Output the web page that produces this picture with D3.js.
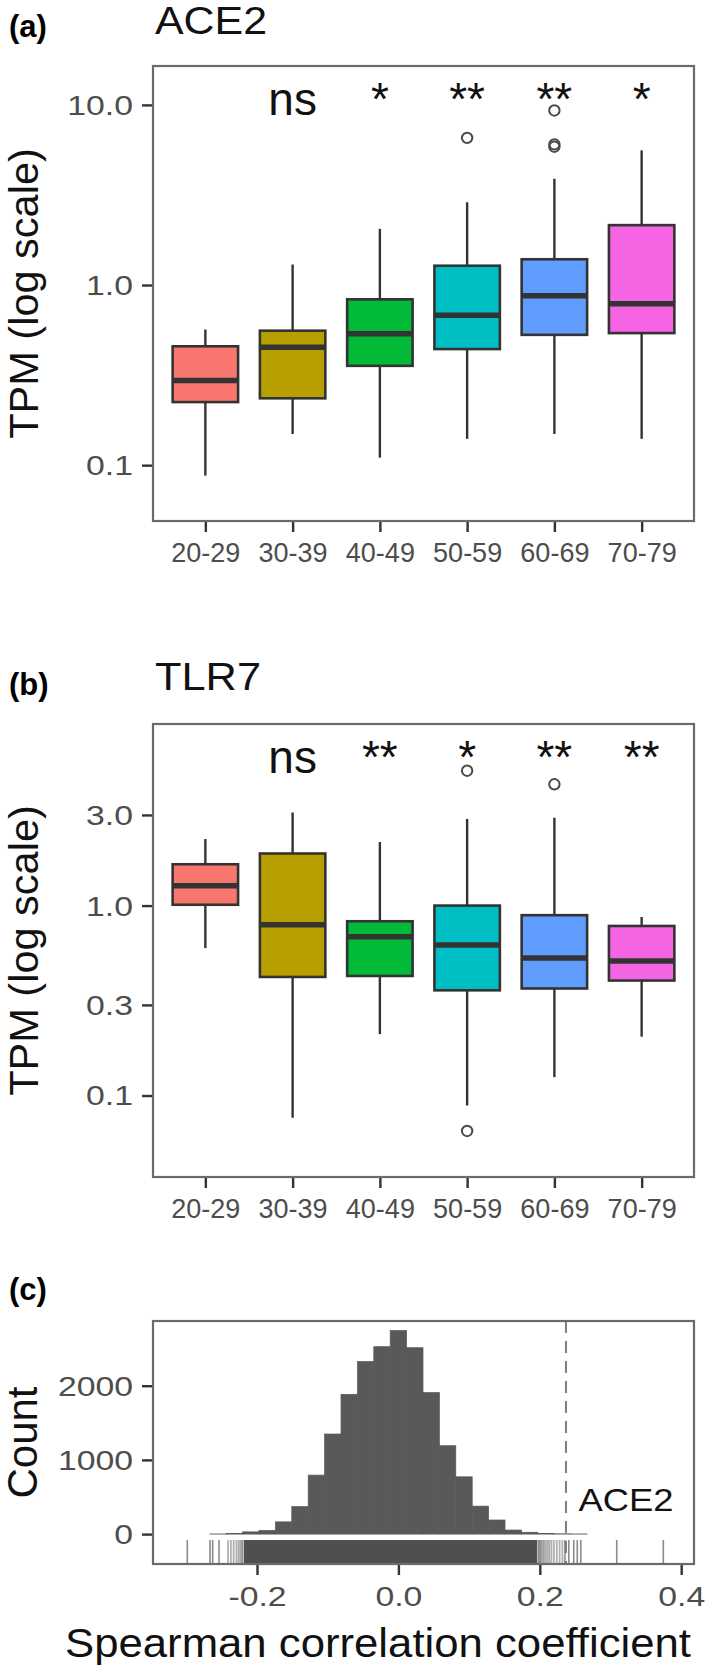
<!DOCTYPE html>
<html>
<head>
<meta charset="utf-8">
<script src="https://cdn.jsdelivr.net/npm/d3@7"></script>
<style>
  html, body { margin: 0; padding: 0; background: #fff; }
  svg { display: block; }
  text { font-family: "Liberation Sans", Arial, sans-serif; }
</style>
</head>
<body>
<svg id="chart" width="709" height="1669"></svg>
<script>
// ---------------- DATA ----------------
const ageGroups = ["20-29", "30-39", "40-49", "50-59", "60-69", "70-79"];
const groupColors = ["#F8766D", "#B79F00", "#00BA38", "#00BFC4", "#619CFF", "#F564E3"];

// ACE2 (TPM) box statistics
const ace2Low     = [0.0875, 0.149, 0.110, 0.140, 0.149, 0.140];
const ace2Q1      = [0.224, 0.235, 0.356, 0.441, 0.529, 0.541];
const ace2Median  = [0.295, 0.451, 0.536, 0.679, 0.872, 0.786];
const ace2Q3      = [0.457, 0.558, 0.833, 1.28, 1.39, 2.15];
const ace2High    = [0.566, 1.30, 2.05, 2.88, 3.89, 5.59];
const ace2Outliers = [[], [], [], [6.56], [9.31, 6.04, 5.86], []];
const ace2Signif  = ["", "ns", "*", "**", "**", "*"];
const ace2SignifY = 8.79;
const ace2Ticks   = [0.1, 1, 10];
const ace2TickLabels = ["0.1", "1.0", "10.0"];
const ace2Domain  = [0.04898, 16.44];

// TLR7 (TPM) box statistics
const tlr7Low     = [0.597, 0.0764, 0.2105, 0.0886, 0.125, 0.204];
const tlr7Q1      = [1.01, 0.421, 0.426, 0.358, 0.366, 0.403];
const tlr7Median  = [1.27, 0.792, 0.686, 0.621, 0.529, 0.511];
const tlr7Q3      = [1.65, 1.88, 0.827, 1.00, 0.89, 0.781];
const tlr7High    = [2.24, 3.09, 2.16, 2.86, 2.90, 0.871];
const tlr7Outliers = [[], [], [], [5.13, 0.0651], [4.35], []];
const tlr7Signif  = ["", "ns", "**", "*", "**", "**"];
const tlr7SignifY = 4.96;
const tlr7Ticks   = [0.1, 0.3, 1, 3];
const tlr7TickLabels = ["0.1", "0.3", "1.0", "3.0"];
const tlr7Domain  = [0.03724, 9.036];

// Histogram of Spearman correlation coefficients
const binWidth   = 0.0232;
const binCenters = [-0.2552, -0.232, -0.2088, -0.1856, -0.1624, -0.1392, -0.116, -0.0928, -0.0696, -0.0464, -0.0232,
                    0, 0.0232, 0.0464, 0.0696, 0.0928, 0.116, 0.1392, 0.1624, 0.1856, 0.2088, 0.232, 0.2552];
const binCounts  = [2, 8, 30, 50, 165, 370, 795, 1349, 1884, 2326, 2526,
                    2744, 2512, 1907, 1191, 772, 377, 190, 55, 25, 10, 4, 2];
const rugDenseRange = [-0.2184, 0.196];
const rugFade   = [-0.2200, -0.2215, -0.2235, -0.226, -0.229, -0.233, -0.237, -0.241,
                   0.1975, 0.199, 0.2005, 0.202, 0.204, 0.206, 0.2085, 0.211, 0.2135, 0.2165, 0.22, 0.224, 0.228, 0.232];
const rugSparse = [-0.2986, -0.2665, -0.2627, -0.2537, 0.2356, 0.241, 0.248, 0.253, 0.258, 0.3088, 0.3747];
const ace2Rho   = 0.237;
const corrTicks = [-0.2, 0, 0.2, 0.4];
const corrDomain = [-0.3471, 0.4181];
const countTicks = [0, 1000, 2000];
const countDomain = [-403, 2872];

// ---------------- DRAWING ----------------
const svg = d3.select("#chart");
svg.append("rect").attr("width", 709).attr("height", 1669).attr("fill", "#fff");

const tickColor = "#4D4D4D";
const borderColor = "#6b6b6b";
const lineColor = "#333333";
const tickFont = 27;
const stretch = 1.25;

function styleLeftAxis(g) {
  g.select(".domain").remove();
  g.selectAll(".tick line").attr("stroke", lineColor).attr("stroke-width", 2.4);
  g.selectAll(".tick text")
    .attr("fill", tickColor)
    .attr("font-size", tickFont)
    .attr("x", -20 / stretch)
    .attr("dy", "0.35em")
    .attr("transform", `scale(${stretch},1)`);
}

function drawBoxPanel(cfg) {
  const { L, R, T, B } = cfg;
  const g = svg.append("g");
  const x = d3.scalePoint().domain(ageGroups).range([L, R]).padding(0.6);
  const y = d3.scaleLog().domain(cfg.domain).range([B, T]);
  const unit = x.step();
  const bw = unit * 0.75;

  // panel label & title
  g.append("text").attr("x", 9).attr("y", cfg.labelY).attr("font-size", 31).attr("font-weight", "bold")
    .text(cfg.panelLabel);
  g.append("text").attr("x", 155).attr("y", cfg.titleY).attr("font-size", 39).attr("fill", "#111")
    .attr("textLength", cfg.titleLen).attr("lengthAdjust", "spacingAndGlyphs")
    .text(cfg.title);

  // y axis
  const ya = g.append("g").attr("transform", `translate(${L},0)`)
    .call(d3.axisLeft(y).tickValues(cfg.ticks).tickFormat((d, i) => cfg.tickLabels[i]).tickSizeOuter(0).tickSize(11));
  styleLeftAxis(ya);

  // x axis
  const xa = g.append("g").attr("transform", `translate(0,${B})`)
    .call(d3.axisBottom(x).tickSizeOuter(0).tickSize(11).tickPadding(8));
  xa.select(".domain").remove();
  xa.selectAll(".tick line").attr("stroke", lineColor).attr("stroke-width", 2.4);
  xa.selectAll(".tick text").attr("fill", tickColor).attr("font-size", tickFont).attr("dy", "0.82em");

  // y title
  g.append("text")
    .attr("transform", `translate(38,${(T + B) / 2}) rotate(-90)`)
    .attr("text-anchor", "middle").attr("font-size", 41.5).attr("fill", "#111")
    .text("TPM (log scale)");

  // boxes
  ageGroups.forEach((grp, i) => {
    const cx = x(grp);
    g.append("line").attr("x1", cx).attr("x2", cx)
      .attr("y1", y(cfg.q3[i])).attr("y2", y(cfg.high[i]))
      .attr("stroke", lineColor).attr("stroke-width", 2.4);
    g.append("line").attr("x1", cx).attr("x2", cx)
      .attr("y1", y(cfg.q1[i])).attr("y2", y(cfg.low[i]))
      .attr("stroke", lineColor).attr("stroke-width", 2.4);
    g.append("rect")
      .attr("x", cx - bw / 2).attr("width", bw)
      .attr("y", y(cfg.q3[i])).attr("height", y(cfg.q1[i]) - y(cfg.q3[i]))
      .attr("fill", groupColors[i]).attr("stroke", lineColor).attr("stroke-width", 2.6);
    g.append("line").attr("x1", cx - bw / 2).attr("x2", cx + bw / 2)
      .attr("y1", y(cfg.median[i])).attr("y2", y(cfg.median[i]))
      .attr("stroke", lineColor).attr("stroke-width", 5.5);
    cfg.outliers[i].forEach(v => {
      g.append("circle").attr("cx", cx).attr("cy", y(v)).attr("r", 5.2)
        .attr("fill", "none").attr("stroke", "#4a4a4a").attr("stroke-width", 2);
    });
    if (cfg.signif[i]) {
      g.append("text").attr("x", cx).attr("y", y(cfg.signifY))
        .attr("text-anchor", "middle").attr("font-size", 46).attr("fill", "#111")
        .text(cfg.signif[i]);
    }
  });

  // panel border
  g.append("rect").attr("x", L).attr("y", T).attr("width", R - L).attr("height", B - T)
    .attr("fill", "none").attr("stroke", borderColor).attr("stroke-width", 2.2);
}

drawBoxPanel({
  L: 153, R: 694, T: 66, B: 521,
  panelLabel: "(a)", labelY: 37, title: "ACE2", titleY: 34, titleLen: 112,
  domain: ace2Domain, ticks: ace2Ticks, tickLabels: ace2TickLabels,
  low: ace2Low, q1: ace2Q1, median: ace2Median, q3: ace2Q3, high: ace2High,
  outliers: ace2Outliers, signif: ace2Signif, signifY: ace2SignifY
});

drawBoxPanel({
  L: 153, R: 694, T: 724, B: 1177,
  panelLabel: "(b)", labelY: 695, title: "TLR7", titleY: 690, titleLen: 106,
  domain: tlr7Domain, ticks: tlr7Ticks, tickLabels: tlr7TickLabels,
  low: tlr7Low, q1: tlr7Q1, median: tlr7Median, q3: tlr7Q3, high: tlr7High,
  outliers: tlr7Outliers, signif: tlr7Signif, signifY: tlr7SignifY
});

// ---------- Panel (c) histogram ----------
(function () {
  const L = 153, R = 694, T = 1321, B = 1564;
  const g = svg.append("g");
  const x = d3.scaleLinear().domain(corrDomain).range([L, R]);
  const y = d3.scaleLinear().domain(countDomain).range([B, T]);
  const histColor = "#595959";

  g.append("text").attr("x", 9).attr("y", 1300).attr("font-size", 31).attr("font-weight", "bold").text("(c)");

  // dashed reference line
  g.append("line").attr("x1", x(ace2Rho)).attr("x2", x(ace2Rho)).attr("y1", T).attr("y2", B)
    .attr("stroke", "#7f7f7f").attr("stroke-width", 2).attr("stroke-dasharray", "12,8");

  // histogram bars
  g.selectAll("rect.bin").data(binCenters).enter().append("rect")
    .attr("class", "bin")
    .attr("x", d => x(d - binWidth / 2))
    .attr("width", d => x(d + binWidth / 2) - x(d - binWidth / 2))
    .attr("y", (d, i) => y(binCounts[i]))
    .attr("height", (d, i) => y(0) - y(binCounts[i]))
    .attr("fill", histColor)
    .attr("stroke", histColor).attr("stroke-width", 0.7);

  // rug
  const rugTop = B - 24;
  g.append("rect").attr("x", x(rugDenseRange[0])).attr("width", x(rugDenseRange[1]) - x(rugDenseRange[0]))
    .attr("y", rugTop).attr("height", B - rugTop).attr("fill", "#4f4f4f");
  g.selectAll("line.fade").data(rugFade).enter().append("line")
    .attr("x1", d => x(d)).attr("x2", d => x(d)).attr("y1", rugTop).attr("y2", B)
    .attr("stroke", "#4f4f4f").attr("stroke-width", 1.8).attr("stroke-opacity", 0.45);
  g.selectAll("line.sparse").data(rugSparse).enter().append("line")
    .attr("x1", d => x(d)).attr("x2", d => x(d)).attr("y1", rugTop).attr("y2", B)
    .attr("stroke", "#777").attr("stroke-width", 1.6).attr("stroke-opacity", 0.85);

  // annotation
  g.append("text").attr("x", x(0.2547)).attr("y", 1511).attr("font-size", 32).attr("fill", "#111")
    .attr("textLength", 95).attr("lengthAdjust", "spacingAndGlyphs").text("ACE2");

  // axes
  const ya = g.append("g").attr("transform", `translate(${L},0)`)
    .call(d3.axisLeft(y).tickValues(countTicks).tickFormat(d3.format("d")).tickSizeOuter(0).tickSize(11));
  styleLeftAxis(ya);

  const xa = g.append("g").attr("transform", `translate(0,${B})`)
    .call(d3.axisBottom(x).tickValues(corrTicks).tickFormat(d => d.toFixed(1)).tickSizeOuter(0).tickSize(11));
  xa.select(".domain").remove();
  xa.selectAll(".tick line").attr("stroke", lineColor).attr("stroke-width", 2.4);
  xa.selectAll(".tick text").attr("fill", tickColor).attr("font-size", tickFont)
    .attr("y", 0).attr("dy", 0)
    .attr("transform", `translate(0,42) scale(${stretch},1)`);

  g.append("text")
    .attr("transform", `translate(37,${(T + B) / 2}) rotate(-90)`)
    .attr("text-anchor", "middle").attr("font-size", 42).attr("fill", "#111")
    .text("Count");

  g.append("text").attr("x", 65).attr("y", 1657).attr("font-size", 40).attr("fill", "#111")
    .attr("textLength", 626).attr("lengthAdjust", "spacingAndGlyphs")
    .text("Spearman correlation coefficient");

  g.append("rect").attr("x", L).attr("y", T).attr("width", R - L).attr("height", B - T)
    .attr("fill", "none").attr("stroke", borderColor).attr("stroke-width", 2.2);
})();
</script>
</body>
</html>
